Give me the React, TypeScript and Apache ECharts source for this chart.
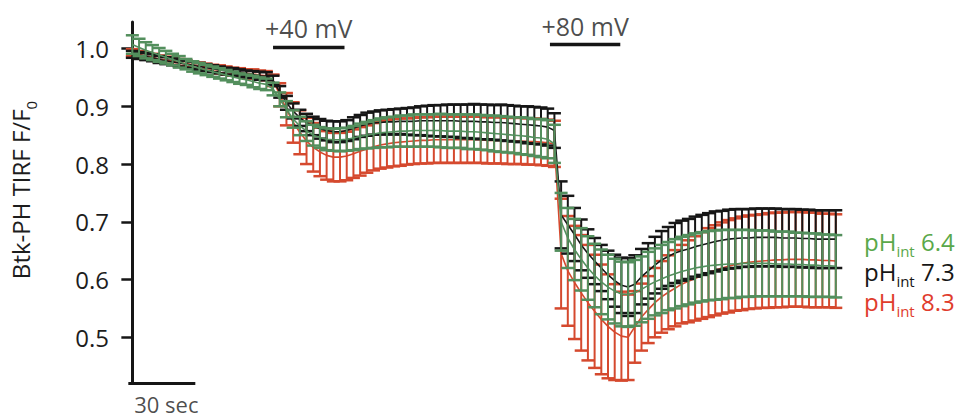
import React, { useEffect, useRef } from 'react';
import * as echarts from 'echarts';

// sampling interval of the recording (seconds)
const SAMPLE_INTERVAL_S = 3;

// pH_int 6.4 (green)
const ph64Mean = [
  1.007, 1.002, 0.997, 0.993, 0.989, 0.985, 0.981, 0.977, 0.973, 0.969, 0.966, 0.963, 0.960, 0.957, 0.954, 0.951, 0.948, 0.946, 0.943, 0.940, 0.938,
  0.930, 0.912, 0.895, 0.878, 0.866, 0.857, 0.850, 0.846, 0.843, 0.842, 0.842, 0.843, 0.845, 0.848, 0.850, 0.852, 0.854,
  0.855, 0.856, 0.857, 0.857, 0.858, 0.858, 0.858, 0.858, 0.858, 0.857, 0.857, 0.857, 0.856, 0.856, 0.855, 0.854, 0.853, 0.852, 0.851, 0.850, 0.849, 0.848, 0.846, 0.845, 0.843,
  0.835,
  0.700, 0.672, 0.652, 0.635, 0.620, 0.607, 0.596, 0.587, 0.580, 0.575, 0.574, 0.577, 0.583, 0.590, 0.596, 0.601, 0.606, 0.610, 0.614, 0.617, 0.620, 0.622, 0.624, 0.625, 0.626, 0.627,
  0.627, 0.628, 0.628, 0.628, 0.628, 0.628, 0.627, 0.627, 0.627, 0.626, 0.626, 0.625, 0.625, 0.624, 0.624, 0.623,
];
const ph64Sem = [
  0.016, 0.015, 0.014, 0.013, 0.012, 0.011, 0.010, 0.010, 0.009, 0.009, 0.009, 0.009, 0.009, 0.009, 0.009, 0.009, 0.009, 0.009, 0.010, 0.010, 0.010,
  0.011, 0.012, 0.014, 0.015, 0.016, 0.017, 0.018, 0.018, 0.019, 0.019, 0.020, 0.020, 0.021, 0.022, 0.023, 0.024, 0.025,
  0.026, 0.026, 0.027, 0.027, 0.028, 0.028, 0.028, 0.028, 0.029, 0.029, 0.029, 0.029, 0.030, 0.030, 0.030, 0.030, 0.031, 0.031, 0.031, 0.031, 0.032, 0.032, 0.032, 0.033, 0.033,
  0.033,
  0.050, 0.052, 0.053, 0.054, 0.055, 0.055, 0.056, 0.056, 0.056, 0.056, 0.056, 0.057, 0.057, 0.058, 0.058, 0.059, 0.059, 0.060, 0.060, 0.060, 0.060, 0.060, 0.060, 0.060, 0.060, 0.059,
  0.059, 0.058, 0.058, 0.057, 0.057, 0.057, 0.056, 0.056, 0.056, 0.055, 0.055, 0.055, 0.055, 0.054, 0.054, 0.054,
];

// pH_int 7.3 (black)
const ph73Mean = [
  0.990, 0.988, 0.986, 0.984, 0.981, 0.979, 0.977, 0.975, 0.973, 0.971, 0.969, 0.967, 0.965, 0.963, 0.961, 0.960, 0.958, 0.956, 0.955, 0.953, 0.952,
  0.945, 0.925, 0.906, 0.892, 0.880, 0.872, 0.866, 0.861, 0.858, 0.856, 0.856, 0.858, 0.862, 0.866, 0.869, 0.871, 0.872,
  0.873, 0.873, 0.874, 0.874, 0.874, 0.875, 0.875, 0.875, 0.875, 0.875, 0.875, 0.874, 0.874, 0.874, 0.873, 0.873, 0.872, 0.872, 0.871, 0.870, 0.869, 0.868, 0.867, 0.866, 0.864,
  0.858,
  0.712, 0.695, 0.678, 0.660, 0.645, 0.632, 0.620, 0.608, 0.598, 0.590, 0.587, 0.592, 0.605, 0.615, 0.625, 0.634, 0.640, 0.646, 0.650, 0.653, 0.657, 0.660, 0.663, 0.666, 0.668, 0.670,
  0.671, 0.672, 0.672, 0.673, 0.673, 0.673, 0.673, 0.672, 0.672, 0.672, 0.671, 0.671, 0.670, 0.670, 0.670, 0.670,
];
const ph73Sem = [
  0.006, 0.006, 0.006, 0.006, 0.006, 0.006, 0.006, 0.006, 0.006, 0.006, 0.006, 0.006, 0.006, 0.006, 0.006, 0.006, 0.006, 0.006, 0.006, 0.007, 0.007,
  0.008, 0.010, 0.012, 0.013, 0.014, 0.015, 0.016, 0.017, 0.017, 0.018, 0.018, 0.018, 0.019, 0.019, 0.020, 0.020, 0.021,
  0.021, 0.022, 0.022, 0.023, 0.024, 0.025, 0.026, 0.027, 0.027, 0.028, 0.028, 0.029, 0.029, 0.030, 0.030, 0.030, 0.030, 0.031, 0.031, 0.031, 0.031, 0.032, 0.032, 0.032, 0.032,
  0.030,
  0.058, 0.050, 0.046, 0.044, 0.042, 0.040, 0.040, 0.042, 0.045, 0.048, 0.050, 0.050, 0.048, 0.048, 0.049, 0.050, 0.051, 0.052, 0.052, 0.052, 0.052, 0.052, 0.052, 0.052, 0.051, 0.051,
  0.051, 0.050, 0.050, 0.050, 0.050, 0.050, 0.050, 0.050, 0.050, 0.050, 0.050, 0.050, 0.050, 0.050, 0.050, 0.050,
];

// pH_int 8.3 (red)
const ph83Mean = [
  0.993, 0.990, 0.987, 0.985, 0.982, 0.980, 0.978, 0.976, 0.974, 0.972, 0.970, 0.968, 0.966, 0.964, 0.962, 0.960, 0.959, 0.957, 0.956, 0.954, 0.953,
  0.945, 0.920, 0.895, 0.872, 0.855, 0.840, 0.829, 0.821, 0.815, 0.812, 0.812, 0.814, 0.818, 0.822, 0.826, 0.830, 0.833,
  0.835, 0.837, 0.838, 0.839, 0.840, 0.841, 0.841, 0.842, 0.842, 0.842, 0.842, 0.842, 0.842, 0.842, 0.842, 0.841, 0.841, 0.841, 0.840, 0.840, 0.840, 0.839, 0.839, 0.838, 0.837,
  0.835,
  0.645, 0.615, 0.595, 0.577, 0.560, 0.545, 0.531, 0.519, 0.509, 0.502, 0.500, 0.518, 0.535, 0.548, 0.560, 0.570, 0.578, 0.585, 0.592, 0.597, 0.602, 0.607, 0.612, 0.616, 0.620, 0.623,
  0.626, 0.628, 0.630, 0.631, 0.632, 0.633, 0.634, 0.634, 0.635, 0.635, 0.635, 0.634, 0.634, 0.633, 0.633, 0.632,
];
const ph83Sem = [
  0.006, 0.006, 0.006, 0.006, 0.006, 0.006, 0.006, 0.006, 0.006, 0.006, 0.006, 0.006, 0.006, 0.007, 0.007, 0.007, 0.007, 0.007, 0.008, 0.008, 0.008,
  0.010, 0.020, 0.028, 0.035, 0.038, 0.040, 0.042, 0.042, 0.042, 0.042, 0.042, 0.042, 0.042, 0.042, 0.041, 0.041, 0.041,
  0.041, 0.041, 0.041, 0.040, 0.040, 0.040, 0.040, 0.040, 0.040, 0.040, 0.040, 0.040, 0.040, 0.040, 0.040, 0.040, 0.040, 0.040, 0.040, 0.040, 0.040, 0.040, 0.040, 0.040, 0.040,
  0.040,
  0.095, 0.095, 0.098, 0.100, 0.100, 0.098, 0.095, 0.090, 0.083, 0.077, 0.074, 0.062, 0.058, 0.058, 0.060, 0.062, 0.064, 0.066, 0.068, 0.071, 0.073, 0.075, 0.077, 0.078, 0.079, 0.080,
  0.080, 0.081, 0.081, 0.081, 0.081, 0.082, 0.082, 0.082, 0.082, 0.082, 0.082, 0.082, 0.082, 0.081, 0.081, 0.081,
];

const yTicks = [0.5, 0.6, 0.7, 0.8, 0.9, 1.0];
const yAxisTitle = 'Btk-PH TIRF F/F';
const yAxisTitleSub = '0';

const stimuli = [
  { label: '+40 mV', start: 63, end: 95 },
  { label: '+80 mV', start: 187, end: 218.5 },
];
const scaleBar = { label: '30 sec', start: -1.8, length: 30 };

const legendLabels = ['6.4', '7.3', '8.3'];

// ---------- styling / layout (not data) ----------
const FONT = '"Open Sans", "Noto Sans", sans-serif';
const GREEN = '#538f5d';
const BLACK = '#161616';
const RED = '#d5492e';
const GREEN_TXT = '#5aa84a';
const RED_TXT = '#e03c2c';
const TXT = '#1d1d1d';
const Y_MIN = 0.42;
const Y_MAX = 1.046;
const X_MIN = -1.5;
const X_MAX = 321.5;
const STIM_BAR_Y = [1.002, 1.007];

const times = ph73Mean.map((_, i) => i * SAMPLE_INTERVAL_S);

function errorBars(name: string, color: string, mean: number[], sem: number[], z: number) {
  return {
    type: 'custom',
    name,
    z,
    clip: false,
    data: times.map((t, i) => [t, mean[i] - sem[i], mean[i] + sem[i]]),
    encode: { x: 0, y: [1, 2] },
    renderItem: (_params: any, api: any) => {
      const t = api.value(0);
      const lo = api.coord([t, api.value(1)]);
      const hi = api.coord([t, api.value(2)]);
      const hw = 6.5;
      const st = { stroke: color, lineWidth: 2, fill: 'none' };
      return {
        type: 'group',
        children: [
          { type: 'line', shape: { x1: lo[0], y1: lo[1], x2: hi[0], y2: hi[1] }, style: st },
          { type: 'line', shape: { x1: lo[0] - hw, y1: lo[1], x2: lo[0] + hw, y2: lo[1] }, style: { ...st, lineWidth: 2.5 } },
          { type: 'line', shape: { x1: hi[0] - hw, y1: hi[1], x2: hi[0] + hw, y2: hi[1] }, style: { ...st, lineWidth: 2.5 } },
        ],
      };
    },
  };
}

function meanLine(name: string, color: string, mean: number[], z: number) {
  return {
    type: 'line',
    name,
    z,
    showSymbol: false,
    symbol: 'none',
    clip: false,
    data: times.map((t, i) => [t, mean[i]]),
    lineStyle: { color, width: 1.6 },
  };
}

function buildOption() {
  const series: any[] = [
    errorBars('pH 8.3 err', RED, ph83Mean, ph83Sem, 2),
    meanLine('pH 8.3', RED, ph83Mean, 3),
    errorBars('pH 7.3 err', BLACK, ph73Mean, ph73Sem, 4),
    meanLine('pH 7.3', BLACK, ph73Mean, 5),
    errorBars('pH 6.4 err', GREEN, ph64Mean, ph64Sem, 6),
    meanLine('pH 6.4', GREEN, ph64Mean, 7),
  ];

  stimuli.forEach((s, k) => {
    series.push({
      type: 'line',
      symbol: 'none',
      clip: false,
      z: 8,
      data: [[s.start, STIM_BAR_Y[k]], [s.end, STIM_BAR_Y[k]]],
      lineStyle: { color: BLACK, width: 3.5 },
    });
    series.push({
      type: 'scatter',
      symbolSize: 1,
      clip: false,
      z: 8,
      itemStyle: { color: 'transparent' },
      data: [[(s.start + s.end) / 2, STIM_BAR_Y[k]]],
      label: {
        show: true,
        position: 'top',
        distance: 6,
        formatter: s.label,
        fontFamily: FONT,
        fontSize: 25,
        color: TXT,
      },
    });
  });

  series.push({
    type: 'line',
    symbol: 'none',
    clip: false,
    z: 8,
    data: [[scaleBar.start, Y_MIN], [scaleBar.start + scaleBar.length, Y_MIN]],
    lineStyle: { color: BLACK, width: 3 },
  });
  series.push({
    type: 'scatter',
    symbolSize: 1,
    clip: false,
    z: 8,
    itemStyle: { color: 'transparent' },
    data: [[scaleBar.start + scaleBar.length / 2 + 2, Y_MIN]],
    label: {
      show: true,
      position: 'bottom',
      distance: 9,
      formatter: scaleBar.label,
      fontFamily: FONT,
      fontSize: 22,
      lineHeight: 22,
      color: TXT,
    },
  });

  const legendColors = [GREEN_TXT, BLACK, RED_TXT];
  const legendTops = [229, 259, 289];
  const graphic: any[] = legendLabels.map((v, k) => ({
    type: 'text',
    left: 864,
    top: legendTops[k],
    style: {
      text: `{b|pH}{s|int}{b| ${v}}`,
      fill: legendColors[k],
      rich: {
        b: { fontFamily: FONT, fontSize: 24, lineHeight: 29, verticalAlign: 'top', fill: legendColors[k] },
        s: { fontFamily: FONT, fontSize: 15, lineHeight: 15, verticalAlign: 'bottom', fill: legendColors[k] },
      },
    },
  }));
  graphic.push({
    type: 'text',
    x: 23,
    y: 190,
    rotation: Math.PI / 2,
    style: {
      text: `{b|${yAxisTitle}}{s|${yAxisTitleSub}}`,
      align: 'center',
      verticalAlign: 'middle',
      fill: TXT,
      rich: {
        b: { fontFamily: FONT, fontSize: 24, lineHeight: 30, verticalAlign: 'top', fill: TXT },
        s: { fontFamily: FONT, fontSize: 15, lineHeight: 15, verticalAlign: 'bottom', fill: TXT },
      },
    },
  });

  return {
    animation: false,
    backgroundColor: '#ffffff',
    textStyle: { fontFamily: FONT },
    grid: { left: 129, top: 22, width: 721.3, height: 361.5, containLabel: false },
    xAxis: {
      type: 'value',
      min: X_MIN,
      max: X_MAX,
      show: false,
    },
    yAxis: {
      type: 'value',
      min: Y_MIN,
      max: Y_MAX,
      splitLine: { show: false },
      axisLine: { show: true, lineStyle: { color: BLACK, width: 3 } },
      axisTick: {
        show: true,
        inside: false,
        length: 11,
        customValues: yTicks,
        lineStyle: { color: BLACK, width: 2.5 },
      },
      axisLabel: {
        show: true,
        customValues: yTicks,
        margin: 20,
        fontFamily: FONT,
        fontSize: 24,
        color: TXT,
        formatter: (v: number) => v.toFixed(1),
      },
    },
    graphic,
    series,
  };
}

export default function App() {
  const ref = useRef<HTMLDivElement>(null);
  useEffect(() => {
    document.body.style.margin = '0';
    const chart = echarts.init(ref.current as HTMLDivElement, null, { renderer: 'svg' });
    chart.setOption(buildOption() as any);
    return () => chart.dispose();
  }, []);
  return <div ref={ref} style={{ width: 958, height: 420 }} />;
}
